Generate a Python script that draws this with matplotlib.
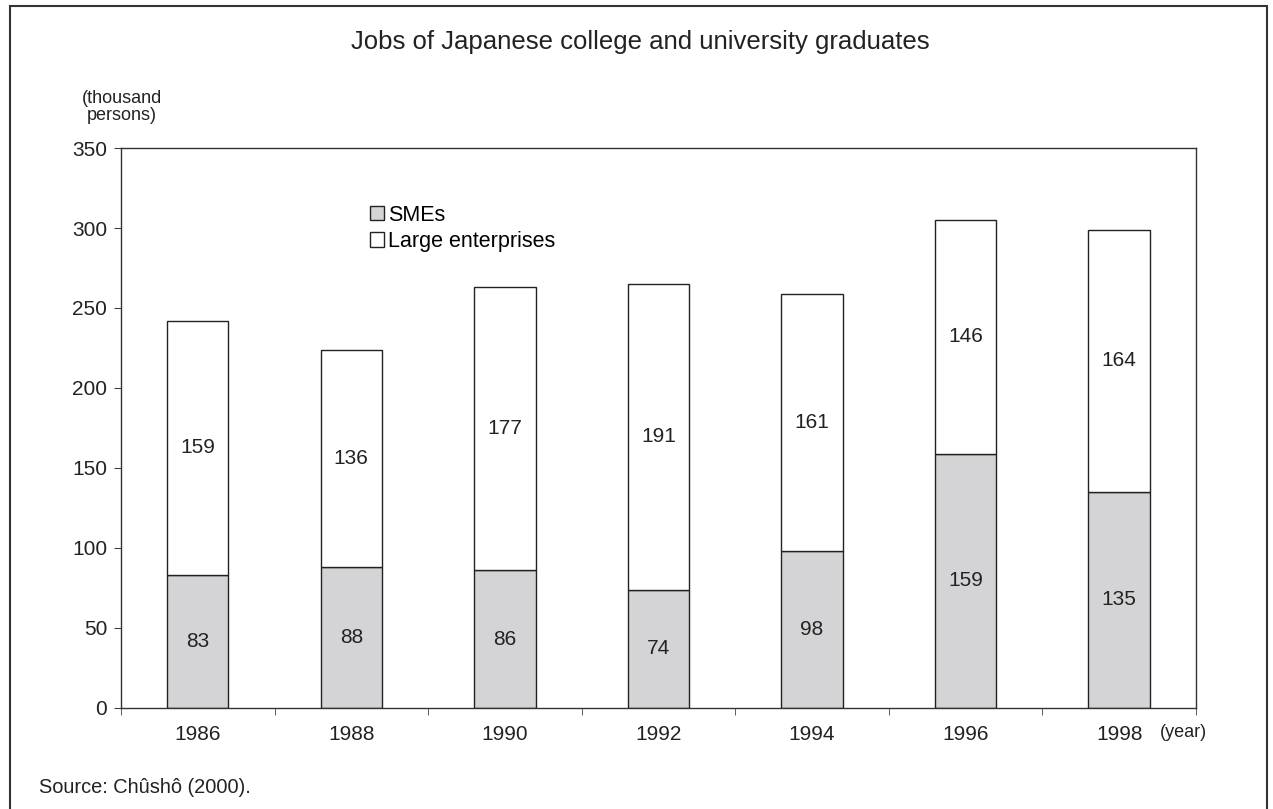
import matplotlib.pyplot as plt
from matplotlib.patches import Rectangle
import numpy as np

plt.rcParams['font.family'] = ['Liberation Sans', 'DejaVu Sans']

# data
years = ['1986', '1988', '1990', '1992', '1994', '1996', '1998']
smes = [83, 88, 86, 74, 98, 159, 135]
large = [159, 136, 177, 191, 161, 146, 164]

fig = plt.figure(figsize=(12.73, 8.09), dpi=100)
ax = fig.add_axes([0.095, 0.125, 0.8445, 0.692])

x = np.arange(len(years))
ax.bar(x, smes, width=0.4, color='#d4d4d6', edgecolor='#222222', linewidth=1, label='SMEs')
ax.bar(x, large, width=0.4, bottom=smes, color='white', edgecolor='#222222', linewidth=1,
       label='Large enterprises')

# value labels
for i in range(len(years)):
    ax.text(x[i], smes[i] / 2, str(smes[i]), ha='center', va='center', fontsize=15, color='#222222')
    ax.text(x[i], smes[i] + large[i] / 2, str(large[i]), ha='center', va='center', fontsize=15,
            color='#222222')

ax.set_xlim(-0.5, len(years) - 0.5)
ax.set_ylim(0, 350)
ax.set_yticks(range(0, 351, 50))
ax.set_xticks(x)
ax.set_xticklabels(years)
ax.set_xticks(np.arange(-0.5, len(years), 1), minor=True)
ax.tick_params(axis='x', which='major', length=0, labelsize=15, pad=12, colors='#222222')
ax.tick_params(axis='x', which='minor', length=5, direction='out', color='#444444')
ax.tick_params(axis='y', length=5, direction='out', labelsize=15, pad=5, colors='#222222', color='#444444')
for s in ax.spines.values():
    s.set_color('#333333')
    s.set_linewidth(1)

ax.legend(loc='upper left', bbox_to_anchor=(0.291, 0.747), bbox_transform=fig.transFigure,
          frameon=False, fontsize=15.5, handlelength=0.65, handleheight=0.65,
          handletextpad=0.15, labelspacing=0.25, borderaxespad=0, borderpad=0)

fig.text(0.503, 0.948, 'Jobs of Japanese college and university graduates', ha='center',
         va='center', fontsize=18.5, color='#222222')
fig.text(0.0955, 0.868, '(thousand\npersons)', ha='center', va='center', fontsize=13,
         color='#222222', linespacing=1.0)
fig.text(0.93, 0.095, '(year)', ha='center', va='center', fontsize=13, color='#222222')
fig.text(0.031, 0.027, 'Source: Chûshô (2000).', ha='left', va='center', fontsize=14.4, color='#222222')

# outer frame
fig.patches.append(Rectangle((0.008, -0.02), 0.987, 1.013, transform=fig.transFigure,
                             fill=False, edgecolor='#333333', linewidth=1.5))

fig.savefig('out.png', dpi=100)
